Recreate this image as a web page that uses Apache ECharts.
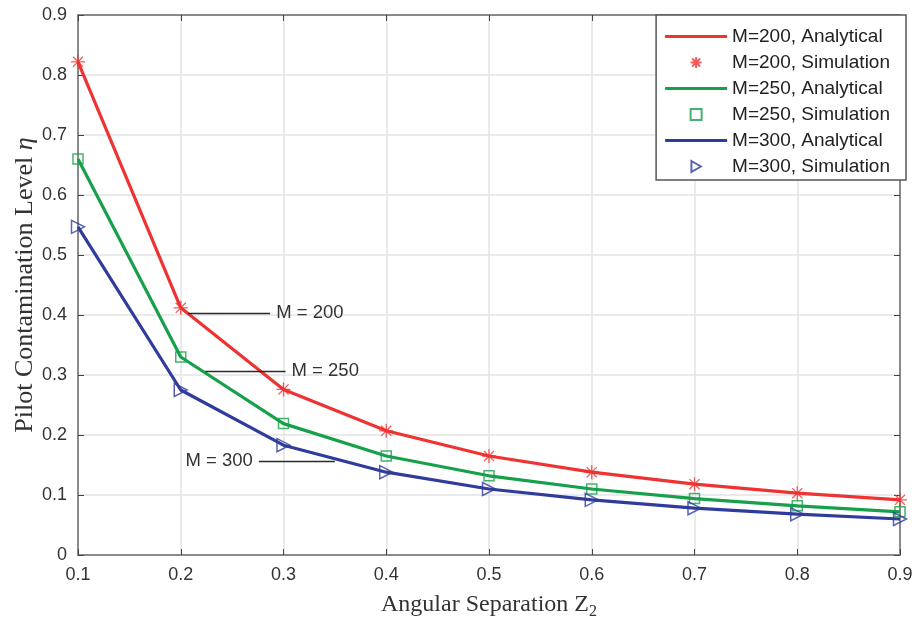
<!DOCTYPE html>
<html>
<head>
<meta charset="utf-8">
<script src="https://cdn.jsdelivr.net/npm/echarts@6/dist/echarts.min.js"></script>
<style>
  html, body { margin: 0; padding: 0; background: #fff; }
  #chart { width: 912px; height: 624px; }
</style>
</head>
<body>
<div id="chart"></div>
<script>
// Angular separation values on the x axis
const separation = [0.1, 0.2, 0.3, 0.4, 0.5, 0.6, 0.7, 0.8, 0.9];

// Pilot contamination level, analytical curves
const analytical200 = [0.822, 0.412, 0.276, 0.207, 0.165, 0.138, 0.118, 0.103, 0.092];
const analytical250 = [0.660, 0.330, 0.219, 0.165, 0.132, 0.110, 0.094, 0.082, 0.072];
const analytical300 = [0.547, 0.275, 0.183, 0.138, 0.110, 0.092, 0.078, 0.068, 0.060];

// Pilot contamination level, simulated points
const simulation200 = [0.822, 0.412, 0.276, 0.207, 0.165, 0.138, 0.118, 0.103, 0.092];
const simulation250 = [0.660, 0.330, 0.219, 0.165, 0.132, 0.110, 0.094, 0.082, 0.072];
const simulation300 = [0.547, 0.275, 0.183, 0.138, 0.110, 0.092, 0.078, 0.068, 0.060];

const seriesNames = [
  'M=200, Analytical', 'M=200, Simulation',
  'M=250, Analytical', 'M=250, Simulation',
  'M=300, Analytical', 'M=300, Simulation'
];
const curveLabels = ['M = 200', 'M = 250', 'M = 300'];

const RED = '#ef3232';
const GREEN = '#16a04a';
const BLUE = '#2f3c9c';

const ASTERISK = 'path://M0,-1L0,1M-1,0L1,0M-0.72,-0.72L0.72,0.72M-0.72,0.72L0.72,-0.72';
const SQUARE = 'path://M0,0L1,0L1,1L0,1Z';
const TRIANGLE = 'path://M0,0L1.7,1L0,2Z';
// Thin bar used as the legend sample for the solid curves
const LINE_ICON = 'path://M0,0L62,0L62,3.2L0,3.2Z';

const pairs = xs => ys => xs.map((x, i) => [x, ys[i]]);
const onX = pairs(separation);

function leader(from, to, y, text, pos) {
  return {
    silent: true,
    symbol: 'none',
    lineStyle: { color: '#2a2a2a', width: 1.3, type: 'solid' },
    label: {
      show: true, position: pos, formatter: text, distance: 6,
      fontFamily: 'Liberation Sans, Arial, sans-serif', fontSize: 18.5, color: '#333'
    },
    emphasis: { disabled: true },
    data: [[{ coord: [from, y] }, { coord: [to, y] }]]
  };
}

function curve(name, values, color, mark) {
  return {
    name, type: 'line', data: onX(values), symbol: 'none', showSymbol: false,
    lineStyle: { color, width: 3.2 }, itemStyle: { color }, z: 2,
    markLine: mark
  };
}
function points(name, values, color, symbol, size, bw) {
  return {
    name, type: 'scatter', data: onX(values), symbol, symbolSize: size,
    itemStyle: { color: 'rgba(0,0,0,0)', borderColor: color, borderWidth: bw }, z: 3
  };
}

const tickFont = { fontFamily: 'Liberation Sans, Arial, sans-serif', fontSize: 18, color: '#333' };
const titleFont = 'Liberation Serif, Times New Roman, serif';
const axisGray = '#8a8a8a';

const option = {
  animation: false,
  backgroundColor: '#fff',
  grid: { left: 78, right: 12, top: 15, bottom: 69, show: false, containLabel: false, outerBoundsMode: 'none' },
  legend: {
    orient: 'vertical', right: 6, top: 15,
    data: seriesNames.map((n, i) => (i % 2 === 0
      ? { name: n, icon: LINE_ICON, itemStyle: { color: [RED, GREEN, BLUE][i / 2], borderWidth: 0 } }
      : { name: n })),
    backgroundColor: '#fff', borderColor: '#555', borderWidth: 1.5,
    padding: [12, 16, 4, 9],
    itemWidth: 62, itemHeight: 11, itemGap: 7,
    textStyle: { fontFamily: 'Liberation Sans, Arial, sans-serif', fontSize: 19, color: '#222' }
  },
  xAxis: [{
    type: 'value', min: 0.1, max: 0.9, interval: 0.1,
    name: '{a|Angular Separation Z}{s|2}', nameLocation: 'middle', nameGap: 35,
    nameTextStyle: {
      rich: {
        a: { fontFamily: titleFont, fontSize: 24, color: '#333' },
        s: { fontFamily: titleFont, fontSize: 16, color: '#333', verticalAlign: 'bottom', padding: [14, 0, 0, 0] }
      }
    },
    axisLine: { show: true, onZero: false, lineStyle: { color: axisGray, width: 2 } },
    axisTick: { show: true, inside: true, length: 6, lineStyle: { color: '#444', width: 1 } },
    axisLabel: Object.assign({ margin: 11, formatter: v => v.toFixed(1) }, tickFont),
    splitLine: { show: true, lineStyle: { color: '#e3e3e6', width: 1.5 } }
  }, {
    type: 'value', position: 'top', min: 0.1, max: 0.9, interval: 0.1,
    axisLine: { show: true, onZero: false, lineStyle: { color: axisGray, width: 2 } },
    axisTick: { show: true, inside: true, length: 6, lineStyle: { color: '#444', width: 1 } },
    axisLabel: { show: false }, splitLine: { show: false }
  }],
  yAxis: [{
    type: 'value', min: 0, max: 0.9, interval: 0.1,
    name: '{a|Pilot Contamination Level }{e|η}', nameLocation: 'middle', nameGap: 40,
    nameMoveOverlap: false,
    nameTextStyle: {
      rich: {
        a: { fontFamily: titleFont, fontSize: 26, color: '#333' },
        e: { fontFamily: titleFont, fontSize: 26, fontStyle: 'italic', color: '#333' }
      }
    },
    axisLine: { show: true, onZero: false, lineStyle: { color: axisGray, width: 2 } },
    axisTick: { show: true, inside: true, length: 6, lineStyle: { color: '#444', width: 1 } },
    axisLabel: Object.assign({ margin: 11, formatter: v => (v === 0 ? '0' : v.toFixed(1)) }, tickFont),
    splitLine: { show: true, lineStyle: { color: '#e3e3e6', width: 1.5 } }
  }, {
    type: 'value', position: 'right', min: 0, max: 0.9, interval: 0.1,
    axisLine: { show: true, onZero: false, lineStyle: { color: axisGray, width: 2 } },
    axisTick: { show: true, inside: true, length: 6, lineStyle: { color: '#444', width: 1 } },
    axisLabel: { show: false }, splitLine: { show: false }
  }],
  series: [
    curve(seriesNames[0], analytical200, RED, leader(0.207, 0.287, 0.403, curveLabels[0], 'end')),
    points(seriesNames[1], simulation200, RED, ASTERISK, 14, 1.3),
    curve(seriesNames[2], analytical250, GREEN, leader(0.224, 0.302, 0.307, curveLabels[1], 'end')),
    points(seriesNames[3], simulation250, GREEN, SQUARE, 10, 1.5),
    curve(seriesNames[4], analytical300, BLUE, leader(0.276, 0.350, 0.157, curveLabels[2], 'start')),
    points(seriesNames[5], simulation300, BLUE, TRIANGLE, 13, 1.5)
  ]
};

const chart = echarts.init(document.getElementById('chart'), null, { renderer: 'canvas' });
chart.setOption(option);
</script>
</body>
</html>
